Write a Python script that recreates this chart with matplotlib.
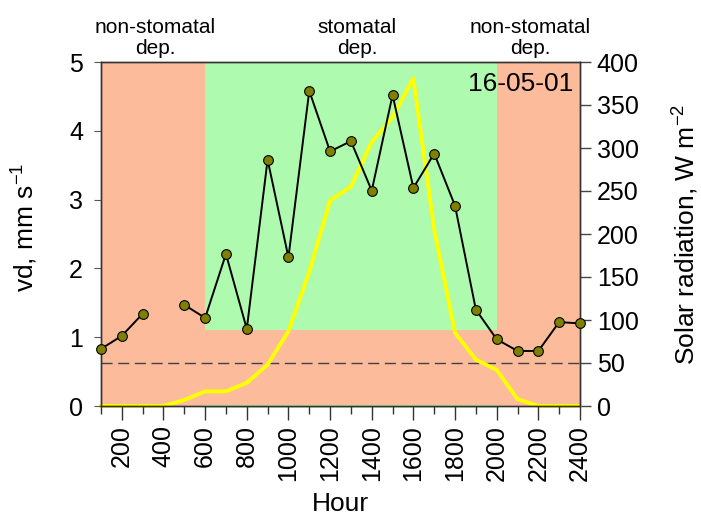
import numpy as np
import matplotlib
matplotlib.use("Agg")
import matplotlib.pyplot as plt
import matplotlib.transforms as mtransforms

plt.rcParams['font.family'] = ['Liberation Sans', 'DejaVu Sans']
plt.rcParams['mathtext.fontset'] = 'custom'
plt.rcParams['mathtext.rm'] = 'Liberation Sans'
plt.rcParams['mathtext.default'] = 'regular'

hours = [100, 200, 300, 400, 500, 600, 700, 800, 900, 1000, 1100, 1200,
         1300, 1400, 1500, 1600, 1700, 1800, 1900, 2000, 2100, 2200, 2300, 2400]
vd = [0.83, 1.02, 1.34, np.nan, 1.47, 1.28, 2.21, 1.12, 3.58, 2.16, 4.58, 3.70,
      3.85, 3.13, 4.52, 3.17, 3.67, 2.91, 1.40, 0.97, 0.80, 0.80, 1.22, 1.20]
solar = [0, 0, 0, 0, 7, 17, 17, 27, 48, 87, 156, 239,
         255, 307, 336, 381, 205, 85, 54, 42, 8, 0, 0, 0]

threshold_vd = 0.625
stomatal_start, stomatal_end, stomatal_min = 600, 2000, 1.1
zone_labels = ["non-stomatal\ndep.", "stomatal\ndep.", "non-stomatal\ndep."]
zone_label_x = [360, 1330, 2160]
date_label = "16-05-01"
xtick_vals = list(range(100, 2500, 100))

salmon = "#FCBC9C"
green = "#AEFAAE"
VD_MAX, SOL_MAX = 5, 400
k = SOL_MAX / VD_MAX

fig = plt.figure(figsize=(7.01, 5.16), dpi=100)
ax = fig.add_axes([101/701, 1-406/516, (580-101)/701, (406-62)/516])
ax2 = ax.twinx()

ax.set_xlim(100, 2400)
ax.set_ylim(0, VD_MAX)
ax2.set_ylim(0, SOL_MAX)

# background drawn on the lower (right-hand) axes
ax2.set_zorder(ax.get_zorder() - 1)
ax.patch.set_visible(False)
ax2.patch.set_visible(True)
ax2.patch.set_facecolor(salmon)
ax2.add_patch(plt.Rectangle((stomatal_start, stomatal_min * k), stomatal_end - stomatal_start,
                            SOL_MAX - stomatal_min * k, facecolor=green, edgecolor='none', zorder=0.5))
ax2.plot([stomatal_start, stomatal_end], [0, 0], color=green, lw=2.0, zorder=0.6, clip_on=False)
ax2.axhline(threshold_vd * k, color='#404040', lw=1.0, dashes=(8, 4), zorder=1)
ax2.plot(hours, solar, color='#FFFF00', lw=2.8, zorder=2, clip_on=False)

ax.plot(hours, vd, color='black', lw=1.4, marker='o', markersize=7,
        markerfacecolor='#808000', markeredgecolor='black', markeredgewidth=0.8,
        zorder=3, clip_on=False)

ax.set_xticks(xtick_vals)
ax.set_xticklabels([str(h) if h % 200 == 0 else '' for h in xtick_vals], rotation=90)
ax.set_yticks([0, 1, 2, 3, 4, 5])
ax2.set_yticks(range(0, SOL_MAX + 1, 50))

ax.tick_params(axis='x', direction='out', labelsize=18, length=10, width=1, color='#333333', pad=4)
ax.tick_params(axis='y', direction='out', labelsize=18, length=5, width=0.8, color='#555555', pad=8)
ax2.tick_params(axis='y', direction='out', labelsize=18, length=8, width=1, color='#444444', pad=4)

for t, h in zip(ax.xaxis.get_major_ticks(), xtick_vals):
    t.tick1line.set_markersize(10 if h % 200 == 0 else 6)

ax.set_xlabel("Hour", fontsize=19)
ax.set_ylabel("vd, mm s$^{-1}$", fontsize=19)
ax2.set_ylabel("Solar radiation, W m$^{-2}$", fontsize=19)
ax.xaxis.set_label_coords(0.5, -(492 - 406) / 344)
ax.yaxis.set_label_coords((40 - 101) / 479, 0.52)
ax2.yaxis.set_label_coords((671 - 101) / 479, 0.5)

for a in (ax, ax2):
    for s in a.spines.values():
        s.set_linewidth(1.0)
        s.set_color('#333333')

trans = mtransforms.blended_transform_factory(ax.transData, ax.transAxes)
for x, lab in zip(zone_label_x, zone_labels):
    ax.text(x, 1.012, lab, transform=trans, ha='center', va='bottom', fontsize=15,
            linespacing=1.15)

ax.text(0.985, 0.972, date_label, transform=ax.transAxes, ha='right', va='top', fontsize=19)

fig.savefig("out.png", dpi=100)
